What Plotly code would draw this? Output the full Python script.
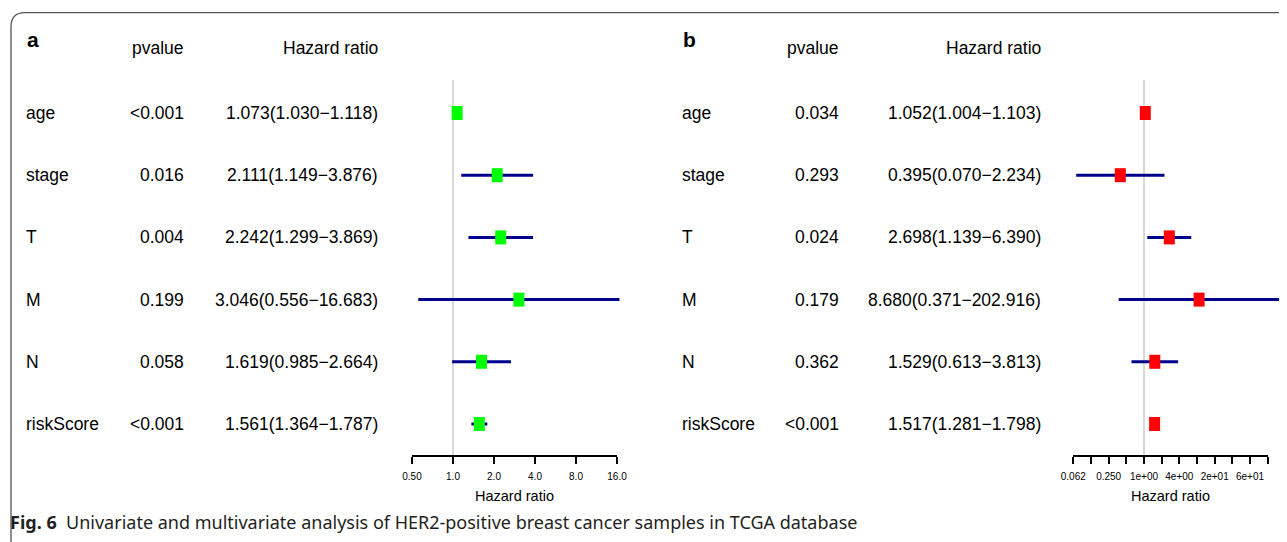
import numpy as np
import plotly.graph_objects as go

# ---------------- data ----------------
variables = ["age", "stage", "T", "M", "N", "riskScore"]

uni_p = ["<0.001", "0.016", "0.004", "0.199", "0.058", "<0.001"]
uni_hr = [1.073, 2.111, 2.242, 3.046, 1.619, 1.561]
uni_lo = [1.030, 1.149, 1.299, 0.556, 0.985, 1.364]
uni_hi = [1.118, 3.876, 3.869, 16.683, 2.664, 1.787]

multi_p = ["0.034", "0.293", "0.024", "0.179", "0.362", "<0.001"]
multi_hr = [1.052, 0.395, 2.698, 8.680, 1.529, 1.517]
multi_lo = [1.004, 0.070, 1.139, 0.371, 0.613, 1.281]
multi_hi = [1.103, 2.234, 6.390, 202.916, 3.813, 1.798]

ticks_a = [0.5, 1, 2, 4, 8, 16]
ticklabels_a = ["0.50", "1.0", "2.0", "4.0", "8.0", "16.0"]
ticks_b = [0.0625, 0.125, 0.25, 0.5, 1, 2, 4, 8, 16, 32, 64, 128]
ticklabels_b = ["0.062", "", "0.250", "", "1e+00", "", "4e+00", "", "2e+01", "", "6e+01", ""]

caption = "<b>Fig. 6</b>  Univariate and multivariate analysis of HER2-positive breast cancer samples in TCGA database"

# ---------------- layout constants ----------------
# the page body has an 8px margin; target coordinates below are screen pixels
OX, OY = 8, 8
W, H = 1287 - OX, 542 - OY
FONT = "Liberation Sans"
TXT = 17.5


def px(x):
    return (x - OX) / W


def py(y):
    return 1 - (y - OY) / H


# tick-axis pixel spans and data-axis pixel spans (same scale)
a_tick_px = (412, 617)
a_data_px = (395, 640)
b_tick_px = (1073.3, 1267.7)
b_data_px = (1058, 1287)


def data_range(tick_px, data_px, lo, hi):
    llo, lhi = np.log10(lo), np.log10(hi)
    s = (lhi - llo) / (tick_px[1] - tick_px[0])
    return [llo - (tick_px[0] - data_px[0]) * s, lhi + (data_px[1] - tick_px[1]) * s]


y_top_px, y_bot_px = 80, 455
row0_px, rowN_px = 113, 424
step = (rowN_px - row0_px) / (len(variables) - 1)
y_range = [len(variables) - 1 + (y_bot_px - rowN_px) / step, -(row0_px - y_top_px) / step]

fig = go.Figure()


def add_panel(xref, hr, lo, hi, color):
    xs, ys = [], []
    for v, l, h in zip(variables, lo, hi):
        xs += [l, h, None]
        ys += [v, v, None]
    fig.add_trace(go.Scatter(x=xs, y=ys, mode="lines", line=dict(color="#00008B", width=3),
                             xaxis=xref, yaxis="y", hoverinfo="skip", showlegend=False))
    fig.add_trace(go.Scatter(x=hr, y=variables, mode="markers",
                             marker=dict(symbol="line-ns", size=10, color=color,
                                         line=dict(width=11, color=color)),
                             xaxis=xref, yaxis="y", showlegend=False))


add_panel("x", uni_hr, uni_lo, uni_hi, "#00FF00")
add_panel("x2", multi_hr, multi_lo, multi_hi, "#FF0000")

# invisible anchor traces for the tick axes
fig.add_trace(go.Scatter(x=[1], y=[variables[0]], mode="markers", marker=dict(opacity=0),
                         xaxis="x3", yaxis="y", hoverinfo="skip", showlegend=False))
fig.add_trace(go.Scatter(x=[1], y=[variables[0]], mode="markers", marker=dict(opacity=0),
                         xaxis="x4", yaxis="y", hoverinfo="skip", showlegend=False))

annotations = []


def text_panel(lbl, x_lbl, x_p, x_hr, pvals, hr, lo, hi):
    annotations.append(dict(text="<b>%s</b>" % lbl, x=px(x_lbl), y=py(39), xref="paper", yref="paper",
                            xanchor="left", yanchor="middle", showarrow=False,
                            font=dict(family=FONT, size=21, color="black")))
    annotations.append(dict(text="pvalue", x=px(x_p), y=py(48), xref="paper", yref="paper",
                            xanchor="right", yanchor="middle", showarrow=False,
                            font=dict(family=FONT, size=TXT, color="black")))
    annotations.append(dict(text="Hazard ratio", x=px(x_hr), y=py(48), xref="paper", yref="paper",
                            xanchor="right", yanchor="middle", showarrow=False,
                            font=dict(family=FONT, size=TXT, color="black")))
    for v, p, h, l, u in zip(variables, pvals, hr, lo, hi):
        annotations.append(dict(text=v, x=px(x_lbl - 1), y=v, xref="paper", yref="y",
                                xanchor="left", yanchor="middle", showarrow=False,
                                font=dict(family=FONT, size=TXT, color="black")))
        annotations.append(dict(text=p, x=px(x_p), y=v, xref="paper", yref="y",
                                xanchor="right", yanchor="middle", showarrow=False,
                                font=dict(family=FONT, size=TXT, color="black")))
        annotations.append(dict(text="%.3f(%.3f\u2212%.3f)" % (h, l, u), x=px(x_hr), y=v,
                                xref="paper", yref="y", xanchor="right", yanchor="middle",
                                showarrow=False, font=dict(family=FONT, size=TXT, color="black")))


text_panel("a", 25, 186, 380, uni_p, uni_hr, uni_lo, uni_hi)
text_panel("b", 681, 841, 1043, multi_p, multi_hr, multi_lo, multi_hi)

annotations.append(dict(text=caption, x=px(8), y=py(522), xref="paper", yref="paper",
                        xanchor="left", yanchor="middle", showarrow=False,
                        font=dict(family="Noto Sans", size=18, color="#231f20")))

# border path (rounded top-left corner)
bx, by, r = 11, 12.7, 14
border = ("M %f,%f L %f,%f Q %f,%f %f,%f L %f,%f" % (
    px(bx), -0.1, px(bx), py(by + r), px(bx), py(by), px(bx + r), py(by), 1.1, py(by)))

shapes = [
    dict(type="path", path=border, xref="paper", yref="paper", line=dict(color="#555555", width=1.3)),
    dict(type="line", xref="x", yref="y domain", x0=1, x1=1, y0=0, y1=1, layer="below",
         line=dict(color="#d9d9d9", width=2)),
    dict(type="line", xref="x2", yref="y domain", x0=1, x1=1, y0=0, y1=1, layer="below",
         line=dict(color="#d9d9d9", width=2)),
]


def tick_axis(tick_px, tv, tt):
    return dict(type="log", domain=[px(tick_px[0]), px(tick_px[1])],
                range=[np.log10(tv[0]), np.log10(tv[-1])], anchor="y", side="bottom",
                showline=True, linecolor="black", linewidth=1.5, ticks="outside", ticklen=7,
                tickwidth=1.5, tickcolor="black", tickvals=tv, ticktext=tt,
                tickfont=dict(family=FONT, size=10, color="black"), ticklabelstandoff=4,
                showgrid=False, zeroline=False, automargin=False, fixedrange=True,
                title=dict(text="Hazard ratio", font=dict(family=FONT, size=14.5, color="black"),
                           standoff=10))


fig.update_layout(
    width=W, height=H, margin=dict(l=0, r=0, t=0, b=0),
    paper_bgcolor="white", plot_bgcolor="rgba(0,0,0,0)",
    showlegend=False,
    xaxis=dict(type="log", domain=[px(a_data_px[0]), px(a_data_px[1])],
               range=data_range(a_tick_px, a_data_px, ticks_a[0], ticks_a[-1]),
               visible=False, anchor="y"),
    xaxis2=dict(type="log", domain=[px(b_data_px[0]), min(1, px(b_data_px[1]))],
                range=data_range(b_tick_px, b_data_px, ticks_b[0], ticks_b[-1]),
                visible=False, anchor="y"),
    xaxis3=tick_axis(a_tick_px, ticks_a, ticklabels_a),
    xaxis4=tick_axis(b_tick_px, ticks_b, ticklabels_b),
    yaxis=dict(type="category", categoryarray=variables, categoryorder="array",
               range=y_range, domain=[py(y_bot_px), py(y_top_px)], visible=False,
               fixedrange=True),
    annotations=annotations,
    shapes=shapes,
)

fig.write_html("out.html")
